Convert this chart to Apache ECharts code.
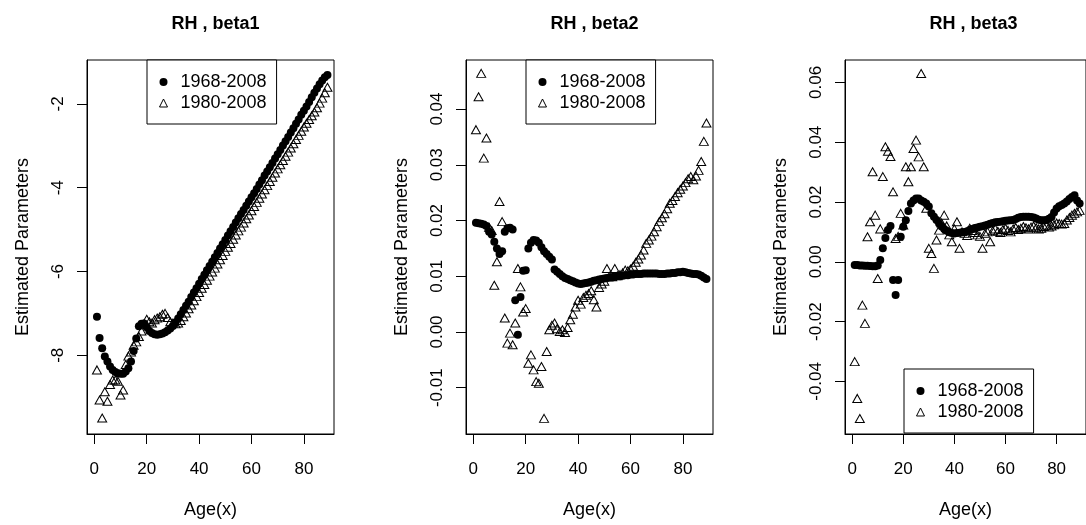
<!DOCTYPE html>
<html><head><meta charset="utf-8">
<script src="https://cdn.jsdelivr.net/npm/echarts@6/dist/echarts.min.js"></script>
<style>html,body{margin:0;padding:0;background:#fff}#c{width:1086px;height:525px}</style>
</head><body><div id="c"></div>
<script>
const ages = [1,2,3,4,5,6,7,8,9,10,11,12,13,14,15,16,17,18,19,20,21,22,23,24,25,26,27,28,29,30,
31,32,33,34,35,36,37,38,39,40,41,42,43,44,45,46,47,48,49,50,51,52,53,54,55,56,57,58,59,60,
61,62,63,64,65,66,67,68,69,70,71,72,73,74,75,76,77,78,79,80,81,82,83,84,85,86,87,88,89];

const titles = ['RH , beta1', 'RH , beta2', 'RH , beta3'];
const seriesNames = ['1968-2008', '1980-2008'];
const xName = 'Age(x)';
const yName = 'Estimated Parameters';
const xTicks = [0, 20, 40, 60, 80];
const yTicks1 = [-8, -6, -4, -2];
const yTicks2 = [-0.01, 0, 0.01, 0.02, 0.03, 0.04];
const yTicks3 = [-0.04, -0.02, 0, 0.02, 0.04, 0.06];

// beta1
const beta1_6808 = [-7.08,-7.59,-7.83,-8.03,-8.15,-8.27,-8.35,-8.40,-8.43,-8.44,-8.44,-8.39,-8.31,-8.15,-7.90,-7.60,-7.31,-7.25,-7.24,-7.33,
-7.42,-7.47,-7.50,-7.51,-7.50,-7.48,-7.45,-7.41,-7.36,-7.30,-7.22,-7.12,-7.02,-6.92,-6.82,-6.72,-6.61,-6.50,-6.40,-6.29,
-6.18,-6.08,-5.97,-5.87,-5.77,-5.66,-5.56,-5.45,-5.35,-5.25,-5.14,-5.04,-4.94,-4.83,-4.73,-4.63,-4.53,-4.43,-4.33,-4.23,
-4.13,-4.03,-3.92,-3.82,-3.71,-3.61,-3.51,-3.41,-3.30,-3.20,-3.10,-2.99,-2.89,-2.79,-2.68,-2.58,-2.47,-2.37,-2.26,-2.16,
-2.06,-1.95,-1.84,-1.73,-1.63,-1.53,-1.44,-1.36,-1.31];
const beta1_8008 = [-8.35,-9.07,-9.50,-8.87,-9.10,-8.70,-8.59,-8.59,-8.62,-8.95,-8.83,-8.22,-8.02,-7.92,-7.76,-7.68,-7.55,-7.42,-7.25,-7.14,
-7.20,-7.23,-7.15,-7.11,-7.08,-7.02,-7.00,-7.10,-7.20,-7.23,-7.25,-7.23,-7.17,-7.08,-6.99,-6.89,-6.80,-6.70,-6.60,-6.50,
-6.40,-6.31,-6.21,-6.11,-6.01,-5.92,-5.82,-5.72,-5.62,-5.52,-5.42,-5.33,-5.23,-5.13,-5.03,-4.94,-4.84,-4.74,-4.65,-4.55,
-4.45,-4.35,-4.25,-4.15,-4.05,-3.95,-3.85,-3.75,-3.65,-3.55,-3.45,-3.35,-3.25,-3.15,-3.05,-2.95,-2.85,-2.75,-2.65,-2.55,
-2.46,-2.37,-2.28,-2.19,-2.09,-1.98,-1.86,-1.73,-1.60];

// beta2
const beta2_6808 = [0.0196,0.0195,0.0194,0.0193,0.0190,0.0180,0.0175,0.0162,0.0150,0.0140,0.0145,0.0180,0.0186,0.0187,0.0184,0.0057,-0.0005,0.0063,0.0110,0.0111,
0.0150,0.0160,0.0165,0.0164,0.0160,0.0152,0.0145,0.0140,0.0135,0.0130,0.0112,0.0108,0.0104,0.0100,0.0097,0.0095,0.0093,0.0091,0.0089,0.0087,
0.0086,0.0087,0.0088,0.0089,0.0090,0.0092,0.0093,0.0094,0.0095,0.0096,0.0097,0.0098,0.0098,0.0099,0.0100,0.0100,0.0101,0.0102,0.0102,0.0103,
0.0103,0.0104,0.0104,0.0104,0.0105,0.0105,0.0105,0.0105,0.0105,0.0105,0.0104,0.0104,0.0104,0.0105,0.0105,0.0106,0.0106,0.0107,0.0107,0.0108,
0.0107,0.0106,0.0105,0.0104,0.0104,0.0103,0.0101,0.0098,0.0095];
const beta2_8008 = [0.0363,0.0422,0.0464,0.0312,0.0348,0.0188,0.0182,0.0084,0.0126,0.0234,0.0198,0.0025,-0.0020,-0.0002,-0.0023,0.0016,0.0114,0.0081,0.0036,0.0042,
-0.0056,-0.0041,-0.0068,-0.0089,-0.0092,-0.0062,-0.0155,-0.0035,0.0004,0.0012,0.0016,0.0006,0.0001,0.0004,-0.0001,0.0008,0.0022,0.0032,0.0045,0.0057,
0.0050,0.0062,0.0066,0.0069,0.0074,0.0058,0.0045,0.0080,0.0086,0.0091,0.0114,0.0100,0.0099,0.0114,0.0101,0.0103,0.0106,0.0111,0.0110,0.0113,
0.0118,0.0125,0.0131,0.0138,0.0147,0.0159,0.0165,0.0172,0.0180,0.0189,0.0198,0.0205,0.0212,0.0221,0.0231,0.0236,0.0243,0.0250,0.0256,0.0262,
0.0268,0.0275,0.0279,0.0273,0.0280,0.0290,0.0306,0.0342,0.0375];

// beta3
const beta3_6808 = [-0.0011,-0.0011,-0.0012,-0.0012,-0.0013,-0.0013,-0.0014,-0.0015,-0.0015,-0.0012,0.0006,0.0045,0.0080,0.0106,0.0120,-0.0061,-0.0111,-0.0061,0.0084,0.0117,
0.0139,0.0170,0.0195,0.0205,0.0212,0.0212,0.0205,0.0201,0.0195,0.0185,0.0162,0.0151,0.0140,0.0128,0.0118,0.0110,0.0104,0.0099,0.0096,0.0095,
0.0096,0.0097,0.0099,0.0100,0.0102,0.0106,0.0110,0.0113,0.0115,0.0117,0.0119,0.0121,0.0124,0.0127,0.0130,0.0132,0.0133,0.0134,0.0136,0.0137,
0.0138,0.0139,0.0140,0.0143,0.0147,0.0150,0.0151,0.0151,0.0151,0.0150,0.0148,0.0145,0.0141,0.0139,0.0139,0.0140,0.0144,0.0150,0.0165,0.0178,
0.0186,0.0190,0.0195,0.0202,0.0210,0.0217,0.0223,0.0205,0.0195];
const beta3_8008 = [-0.0334,-0.0457,-0.0524,-0.0145,-0.0206,0.0084,0.0134,0.0301,0.0156,-0.0056,0.0110,0.0285,0.0385,0.0370,0.0352,0.0234,0.0078,0.0085,0.0162,0.0123,
0.0318,0.0268,0.0318,0.0379,0.0407,0.0351,0.0630,0.0318,0.0179,0.0045,0.0028,-0.0022,0.0073,0.0106,0.0130,0.0156,0.0120,0.0090,0.0067,0.0110,
0.0134,0.0045,0.0100,0.0095,0.0088,0.0112,0.0105,0.0098,0.0090,0.0085,0.0045,0.0095,0.0100,0.0067,0.0104,0.0110,0.0102,0.0098,0.0108,0.0112,
0.0105,0.0100,0.0110,0.0115,0.0108,0.0112,0.0118,0.0114,0.0110,0.0116,0.0120,0.0114,0.0110,0.0112,0.0118,0.0122,0.0116,0.0120,0.0124,0.0130,
0.0128,0.0126,0.0128,0.0140,0.0148,0.0156,0.0162,0.0167,0.0172];

const FONT = 'Liberation Sans, Arial, sans-serif';
const panels = [
  {left: 87, ymin: -9.88, ymax: -0.95, ticks: yTicks1, fmt: v => String(v), d1: beta1_6808, d2: beta1_8008, legend: {left: 147, top: 60}},
  {left: 466, ymin: -0.0183, ymax: 0.0488, ticks: yTicks2, fmt: v => v.toFixed(2), d1: beta2_6808, d2: beta2_8008, legend: {left: 526, top: 60}},
  {left: 845, ymin: -0.0576, ymax: 0.0675, ticks: yTicks3, fmt: v => v.toFixed(2), d1: beta3_6808, d2: beta3_8008, legend: {left: 904, top: 369}}
];
const W = 247, H = 374, TOP = 60;

const grid = [], xAxis = [], yAxis = [], series = [], title = [], legend = [];
panels.forEach((p, i) => {
  grid.push({left: p.left, top: TOP, width: W, height: H, show: true, borderColor: '#000', borderWidth: 1, backgroundColor: 'transparent'});
  title.push({text: titles[i], left: p.left + W / 2, top: 10, textAlign: 'center',
    textStyle: {fontFamily: FONT, fontSize: 18, fontWeight: 'bold', color: '#000'}});
  xAxis.push({type: 'value', gridIndex: i, min: -2.8, max: 91.5, position: 'bottom',
    name: xName, nameLocation: 'middle', nameGap: 67,
    nameTextStyle: {fontFamily: FONT, fontSize: 18, color: '#000'},
    axisLine: {show: true, onZero: false, lineStyle: {color: '#000', width: 1}}, splitLine: {show: false},
    axisTick: {show: true, inside: false, length: 10, customValues: xTicks, lineStyle: {color: '#000', width: 1}},
    axisLabel: {customValues: xTicks, margin: 27, fontFamily: FONT, fontSize: 17, color: '#000', formatter: v => String(v)}});
  yAxis.push({type: 'value', gridIndex: i, min: p.ymin, max: p.ymax, position: 'left',
    name: yName, nameLocation: 'middle', nameGap: 55, nameRotate: 90,
    nameTextStyle: {fontFamily: FONT, fontSize: 18, color: '#000'},
    axisLine: {show: true, onZero: false, lineStyle: {color: '#000', width: 1}}, splitLine: {show: false},
    axisTick: {show: true, inside: false, length: 10, customValues: p.ticks, lineStyle: {color: '#000', width: 1}},
    axisLabel: {customValues: p.ticks, rotate: 90, margin: 20, fontFamily: FONT, fontSize: 17, color: '#000', formatter: p.fmt}});
  series.push({type: 'scatter', name: seriesNames[0], xAxisIndex: i, yAxisIndex: i,
    symbol: 'circle', symbolSize: 8, itemStyle: {color: '#000', opacity: 1},
    data: ages.map((a, k) => [a, p.d1[k]])});
  series.push({type: 'scatter', name: seriesNames[1], xAxisIndex: i, yAxisIndex: i,
    symbol: 'triangle', symbolSize: [9, 8], itemStyle: {color: 'rgba(0,0,0,0)', borderColor: '#000', borderWidth: 1, opacity: 1},
    data: ages.map((a, k) => [a, p.d2[k]])});
  legend.push({left: p.legend.left, top: p.legend.top, orient: 'vertical',
    data: [{name: seriesNames[0], icon: 'circle', itemStyle: {color: '#000', opacity: 1}},
           {name: seriesNames[1], icon: 'triangle', itemStyle: {color: 'rgba(0,0,0,0)', borderColor: '#000', borderWidth: 1, opacity: 1}}],
    itemWidth: 8, itemHeight: 8, itemGap: 3,
    padding: [13, 10, 12, 12], borderColor: '#000', borderWidth: 1, backgroundColor: '#fff',
    selectedMode: false,
    textStyle: {fontFamily: FONT, fontSize: 18, color: '#000', lineHeight: 18, padding: [0, 0, 0, 8]}});
});

const chart = echarts.init(document.getElementById('c'), null, {renderer: 'canvas'});
chart.setOption({animation: false, backgroundColor: '#fff', title, grid, xAxis, yAxis, series, legend});
</script>
</body></html>
